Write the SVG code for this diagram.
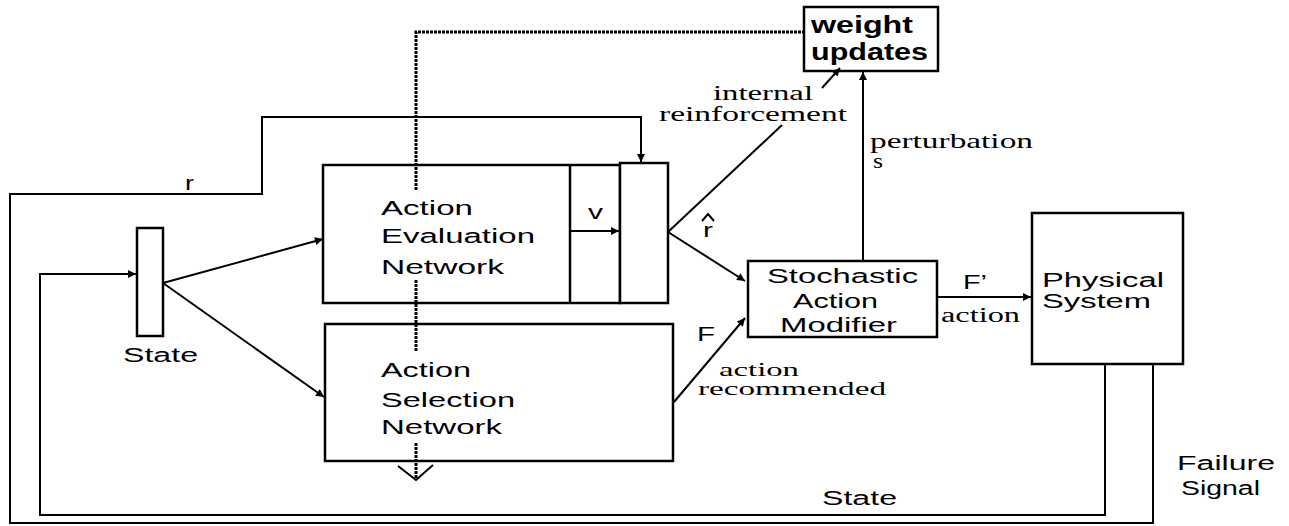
<svg xmlns="http://www.w3.org/2000/svg" width="1289" height="526" viewBox="0 0 1289 526">
<defs>
<marker id="ah" viewBox="0 0 10 10" refX="10" refY="5" markerWidth="10" markerHeight="8" markerUnits="userSpaceOnUse" orient="auto">
<path d="M0,0 L10,5 L0,10 z" fill="#000"/>
</marker>
</defs>
<style>
.box{fill:#fff;stroke:#000;stroke-width:2.5}
.ln{fill:none;stroke:#000;stroke-width:2}
.dot{fill:none;stroke:#000;stroke-width:3;stroke-dasharray:3 1}
.s{font-family:"Liberation Sans",Arial,sans-serif;font-size:20px;fill:#000}
.sb{font-family:"Liberation Sans",Arial,sans-serif;font-size:23px;font-weight:bold;fill:#000}
.r{font-family:"Liberation Serif","Times New Roman",serif;font-size:20px;fill:#000}
</style>
<rect width="1289" height="526" fill="#fff"/>

<g id="state-bar">
<rect class="box" x="137" y="228" width="26" height="108"/>
<text class="s" x="123" y="362" textLength="75" lengthAdjust="spacingAndGlyphs">State</text>
</g>

<g id="action-evaluation-network">
<rect class="box" x="323" y="165" width="297" height="138"/>
<line class="ln" x1="570" y1="165" x2="570" y2="303" style="stroke-width:2.5"/>
<text class="s" x="381" y="215" textLength="92" lengthAdjust="spacingAndGlyphs">Action</text>
<text class="s" x="381" y="243" textLength="154" lengthAdjust="spacingAndGlyphs">Evaluation</text>
<text class="s" x="381" y="274" textLength="123" lengthAdjust="spacingAndGlyphs">Network</text>
<text class="s" x="588" y="219" textLength="15" lengthAdjust="spacingAndGlyphs">v</text>
</g>

<g id="critic-box">
<rect class="box" x="620" y="163" width="48" height="140"/>
</g>

<g id="action-selection-network">
<rect class="box" x="325" y="324" width="348" height="137"/>
<text class="s" x="381" y="377" textLength="90" lengthAdjust="spacingAndGlyphs">Action</text>
<text class="s" x="381" y="407" textLength="134" lengthAdjust="spacingAndGlyphs">Selection</text>
<text class="s" x="381" y="434" textLength="121" lengthAdjust="spacingAndGlyphs">Network</text>
</g>

<g id="weight-updates">
<rect class="box" x="804" y="7" width="134" height="64"/>
<text class="sb" x="811" y="33" textLength="102" lengthAdjust="spacingAndGlyphs">weight</text>
<text class="sb" x="811" y="60" textLength="117" lengthAdjust="spacingAndGlyphs">updates</text>
</g>

<g id="stochastic-action-modifier">
<rect class="box" x="748" y="261" width="189" height="76"/>
<text class="s" x="767" y="283" textLength="151" lengthAdjust="spacingAndGlyphs">Stochastic</text>
<text class="s" x="793" y="308" textLength="85" lengthAdjust="spacingAndGlyphs">Action</text>
<text class="s" x="780" y="332" textLength="117" lengthAdjust="spacingAndGlyphs">Modifier</text>
</g>

<g id="physical-system">
<rect class="box" x="1032" y="213" width="151" height="151"/>
<text class="s" x="1042" y="287" textLength="122" lengthAdjust="spacingAndGlyphs">Physical</text>
<text class="s" x="1042" y="308" textLength="109" lengthAdjust="spacingAndGlyphs">System</text>
</g>

<g id="connectors">
<polyline class="ln" points="1153,364 1153,523 10,523 10,194 262,194 262,117 641,117 641,162" marker-end="url(#ah)"/>
<polyline class="ln" points="1105,364 1105,515 40,515 40,274 136,274" marker-end="url(#ah)"/>
<line class="ln" x1="163" y1="283" x2="323" y2="239" marker-end="url(#ah)"/>
<line class="ln" x1="163" y1="283" x2="324" y2="397" marker-end="url(#ah)"/>
<line class="ln" x1="570" y1="231" x2="619" y2="231" marker-end="url(#ah)"/>
<line class="ln" x1="668" y1="232" x2="745" y2="281" marker-end="url(#ah)"/>
<line class="ln" x1="668" y1="232" x2="782" y2="125"/>
<line class="ln" x1="822" y1="88" x2="840" y2="68" marker-end="url(#ah)"/>
<line class="ln" x1="863" y1="261" x2="863" y2="72" marker-end="url(#ah)"/>
<line class="ln" x1="674" y1="402" x2="745" y2="318" marker-end="url(#ah)"/>
<line class="ln" x1="937" y1="297" x2="1031" y2="297" marker-end="url(#ah)"/>
<polyline class="dot" points="416,190 416,32 804,32"/>
<line class="dot" x1="416" y1="280" x2="416" y2="352"/>
<line class="dot" x1="416" y1="443" x2="416" y2="478"/>
<polyline class="ln" points="398,466 416,480 433,465"/>
</g>

<g id="labels">
<text class="s" x="185" y="190" textLength="9" lengthAdjust="spacingAndGlyphs">r</text>
<text class="s" x="703" y="237" textLength="10" lengthAdjust="spacingAndGlyphs">r</text>
<polyline class="ln" points="702,221 708,214 714,221"/>
<text class="r" x="713" y="100" textLength="100" lengthAdjust="spacingAndGlyphs">internal</text>
<text class="r" x="659" y="121" textLength="188" lengthAdjust="spacingAndGlyphs">reinforcement</text>
<text class="r" x="870" y="148" textLength="163" lengthAdjust="spacingAndGlyphs">perturbation</text>
<text class="r" x="873" y="168" textLength="10" lengthAdjust="spacingAndGlyphs">s</text>
<text class="s" x="963" y="289" textLength="24" lengthAdjust="spacingAndGlyphs">F’</text>
<text class="r" x="941" y="322" textLength="79" lengthAdjust="spacingAndGlyphs">action</text>
<text class="s" x="697" y="341" textLength="18" lengthAdjust="spacingAndGlyphs">F</text>
<text class="r" x="719" y="376" textLength="80" lengthAdjust="spacingAndGlyphs" style="font-size:19px">action</text>
<text class="r" x="698" y="395" textLength="188" lengthAdjust="spacingAndGlyphs" style="font-size:19px">recommended</text>
<text class="s" x="822" y="505" textLength="75" lengthAdjust="spacingAndGlyphs">State</text>
<text class="s" x="1177" y="470" textLength="98" lengthAdjust="spacingAndGlyphs">Failure</text>
<text class="s" x="1181" y="495" textLength="79" lengthAdjust="spacingAndGlyphs">Signal</text>
</g>
</svg>
